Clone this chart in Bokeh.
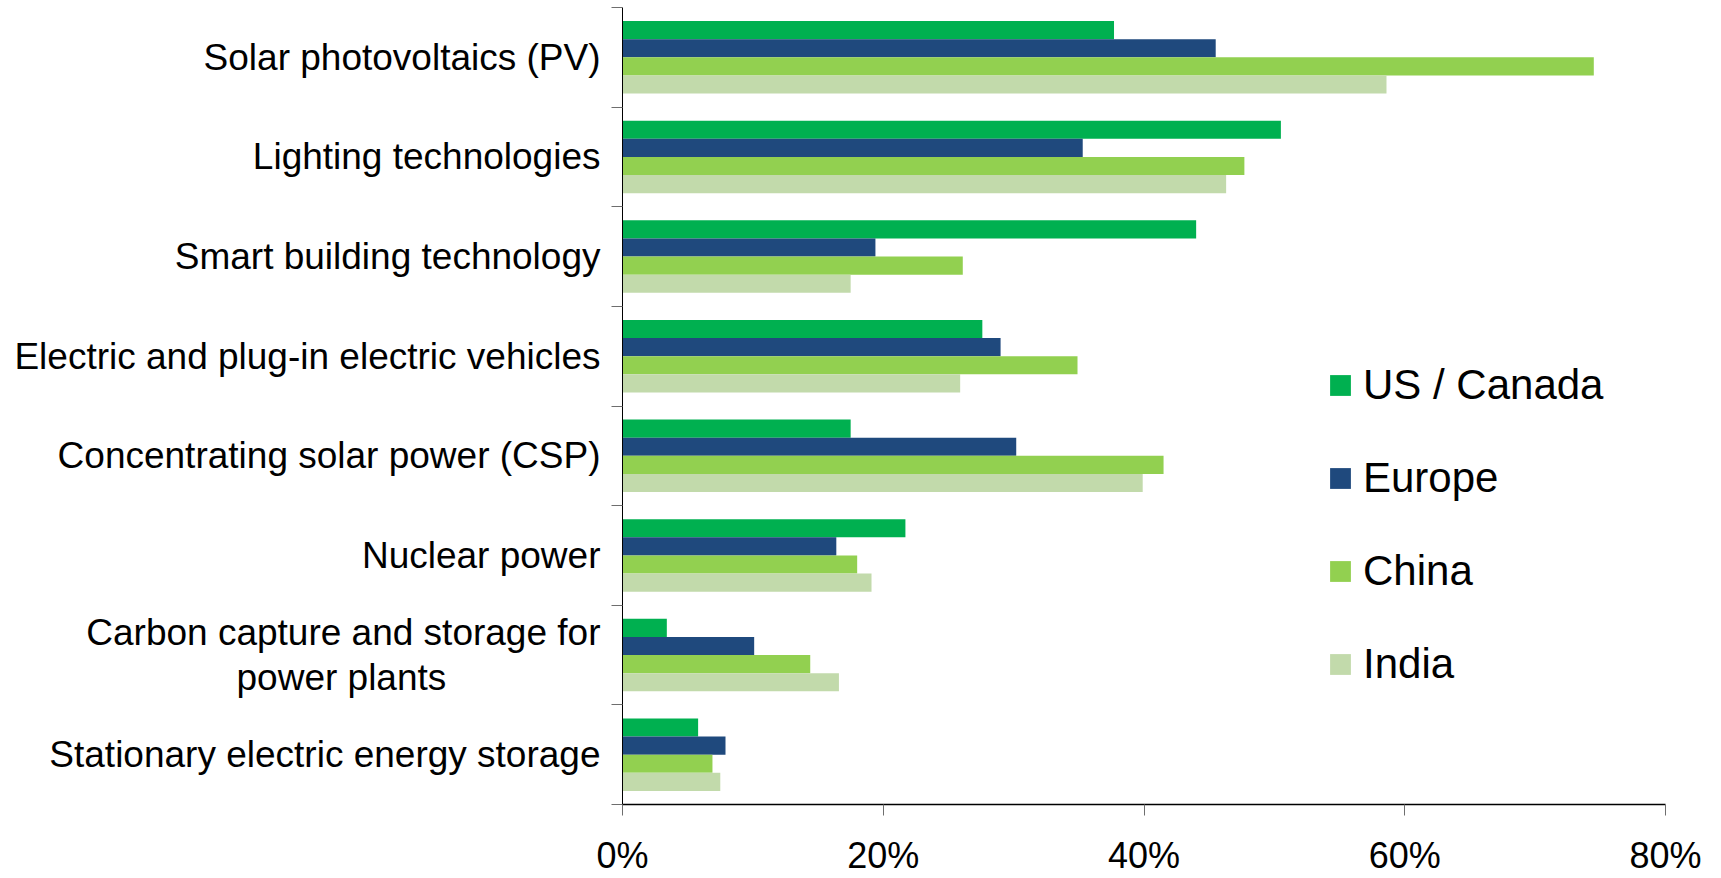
from bokeh.plotting import figure
from bokeh.models import (ColumnDataSource, Range1d, LinearAxis,
                          FixedTicker, PrintfTickFormatter, Legend, LegendItem)
from bokeh.transform import dodge
from bokeh.embed import file_html
from bokeh.resources import INLINE

NB = "\u00a0"
categories = ["Solar photovoltaics (PV)", "Lighting technologies", "Smart building technology",
              "Electric and plug-in electric vehicles", "Concentrating solar power (CSP)",
              "Nuclear power", "Carbon capture and storage for\npower plants" + NB * 15,
              "Stationary electric energy storage"]
us_canada = [37.7, 50.5, 44.0, 27.6, 17.5, 21.7, 3.4, 5.8]
europe = [45.5, 35.3, 19.4, 29.0, 30.2, 16.4, 10.1, 7.9]
china = [74.5, 47.7, 26.1, 34.9, 41.5, 18.0, 14.4, 6.9]
india = [58.6, 46.3, 17.5, 25.9, 39.9, 19.1, 16.6, 7.5]
series_names = ["US / Canada", "Europe", "China", "India"]
series_colors = ["#00B050", "#1F497D", "#92D050", "#C2DAAB"]
x_ticks = [0, 20, 40, 60, 80]

FONT = "Liberation Sans"
n = len(categories)
centers = [n - i - 0.5 for i in range(n)]  # first category on top

source = ColumnDataSource(dict(y=centers, us=us_canada, eu=europe, cn=china, ind=india))

p = figure(width=1721, height=878, output_backend="svg", toolbar_location=None,
           y_range=Range1d(0, n), x_range=Range1d(0, 80),
           x_axis_location=None, y_axis_location=None,
           min_border_left=622, min_border_right=56, min_border_top=7, min_border_bottom=73)
p.outline_line_color = None
p.xgrid.visible = False
p.ygrid.visible = False

bar_h = 0.182
offsets = [1.5 * bar_h, 0.5 * bar_h, -0.5 * bar_h, -1.5 * bar_h]
cols = ["us", "eu", "cn", "ind"]
renderers = []
for col, off, color in zip(cols, offsets, series_colors):
    r = p.hbar(y=dodge("y", off), right=col, left=0, height=bar_h,
               source=source, fill_color=color, line_color=None)
    renderers.append(r)

# y axis: boundary ticks (closest to frame)
tick_axis = LinearAxis(ticker=FixedTicker(ticks=list(range(n + 1))),
                       major_label_overrides={i: "" for i in range(n + 1)},
                       major_label_standoff=0, minor_tick_line_color=None,
                       major_tick_in=0, major_tick_out=11, major_tick_line_color="#6E6E6E",
                       axis_line_color="black", axis_line_width=1)
p.add_layout(tick_axis, "left")

cat_axis = LinearAxis(ticker=FixedTicker(ticks=centers),
                      major_label_overrides={c: name for c, name in zip(centers, categories)},
                      major_tick_line_color=None, minor_tick_line_color=None,
                      axis_line_color=None, major_label_standoff=5,
                      major_label_text_font=FONT, major_label_text_font_size="37px",
                      major_label_text_line_height=1.08,
                      major_label_text_color="black")
p.add_layout(cat_axis, "left")

xaxis = LinearAxis(ticker=FixedTicker(ticks=x_ticks), formatter=PrintfTickFormatter(format="%d%%"),
                   major_tick_in=0, major_tick_out=11, major_tick_line_color="#6E6E6E",
                   minor_tick_line_color=None, axis_line_color="black", axis_line_width=1.5,
                   major_label_standoff=19, major_label_text_font=FONT,
                   major_label_text_font_size="36px", major_label_text_color="black")
p.add_layout(xaxis, "below")

legend = Legend(items=[LegendItem(label=nm, renderers=[r]) for nm, r in zip(series_names, renderers)],
                location=(705, 116), glyph_width=26, glyph_height=26, label_standoff=10,
                spacing=45, padding=0, margin=0, border_line_color=None,
                background_fill_alpha=0, label_text_font=FONT, label_text_font_size="42px",
                label_text_color="black")
p.add_layout(legend)

open("out.html", "w").write(file_html(p, INLINE))
